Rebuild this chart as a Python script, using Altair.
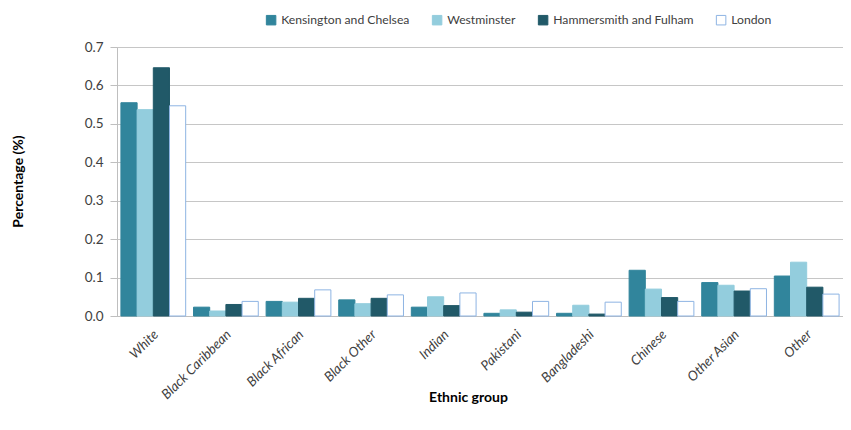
import altair as alt
import pandas as pd

groups = ["White", "Black Caribbean", "Black African", "Black Other", "Indian",
          "Pakistani", "Bangladeshi", "Chinese", "Other Asian", "Other"]
series = ["Kensington and Chelsea", "Westminster", "Hammersmith and Fulham", "London"]
kc = [0.555, 0.023, 0.038, 0.042, 0.023, 0.007, 0.007, 0.119, 0.087, 0.104]
wm = [0.537, 0.013, 0.036, 0.032, 0.050, 0.016, 0.028, 0.070, 0.080, 0.140]
hf = [0.646, 0.030, 0.046, 0.046, 0.027, 0.010, 0.005, 0.048, 0.065, 0.075]
ldn = [0.547, 0.038, 0.068, 0.055, 0.060, 0.038, 0.036, 0.038, 0.071, 0.057]
y_ticks = [0.0, 0.1, 0.2, 0.3, 0.4, 0.5, 0.6, 0.7]

fills = ["#31859C", "#93CDDD", "#215968", "#FFFFFF"]
strokes = ["#31859C", "#93CDDD", "#215968", "#8EB4E3"]

rows = []
for s, vals in zip(series, [kc, wm, hf, ldn]):
    for g, v in zip(groups, vals):
        rows.append({"group": g, "series": s, "value": v})
df = pd.DataFrame(rows)

FONT = "Lato"

legend_opts = dict(title=None, orient="none", legendX=148, legendY=-33,
                   direction="horizontal", symbolType="square",
                   symbolSize=90, symbolStrokeWidth=1,
                   labelFontSize=12.2, labelColor="#404040",
                   labelFont=FONT, columnPadding=20, labelOffset=4)

chart = alt.Chart(df).mark_bar(strokeWidth=1).encode(
    x=alt.X("group:N", sort=groups,
            scale=alt.Scale(paddingInner=0.108, paddingOuter=0.054),
            axis=alt.Axis(title="Ethnic group", labelAngle=-45, labelAlign="right",
                          labelBaseline="middle", labelFontStyle="italic",
                          labelFontSize=13.5, labelColor="#404040", labelPadding=16,
                          labelOffset=3,
                          ticks=False, domainColor="#BFBFBF",
                          titleFontSize=14, titleFontWeight="bold", titleColor="#000000",
                          titleX=351, titleY=74, titleBaseline="top", titleAlign="center",
                          labelFont=FONT, titleFont=FONT)),
    xOffset=alt.XOffset("series:N", sort=series,
                        scale=alt.Scale(paddingInner=0, paddingOuter=0)),
    y=alt.Y("value:Q", scale=alt.Scale(domain=[0, 0.7], nice=False),
            axis=alt.Axis(title="Percentage (%)", values=y_ticks, format=".1f",
                          labelFontSize=13.5, labelColor="#404040", labelPadding=7,
                          tickSize=7, tickColor="#BFBFBF", domainColor="#BFBFBF",
                          gridColor="#C6C6C6",
                          titleFontSize=14, titleFontWeight="bold", titleColor="#000000",
                          titleX=-99, titleY=134, titleAngle=-90,
                          titleAlign="center", titleBaseline="middle",
                          labelFont=FONT, titleFont=FONT)),
    fill=alt.Fill("series:N", sort=series,
                  scale=alt.Scale(domain=series, range=fills),
                  legend=alt.Legend(**legend_opts)),
    stroke=alt.Stroke("series:N", sort=series,
                      scale=alt.Scale(domain=series, range=strokes),
                      legend=alt.Legend(**legend_opts)),
).properties(
    width=726, height=269,
    autosize=alt.AutoSizeParams(type="none"),
    padding={"left": 109, "top": 39, "right": 0, "bottom": 92},
).configure_view(stroke=None).configure(background="#FFFFFF")

chart.save("out.html", embed_options={"renderer": "svg", "actions": False})
